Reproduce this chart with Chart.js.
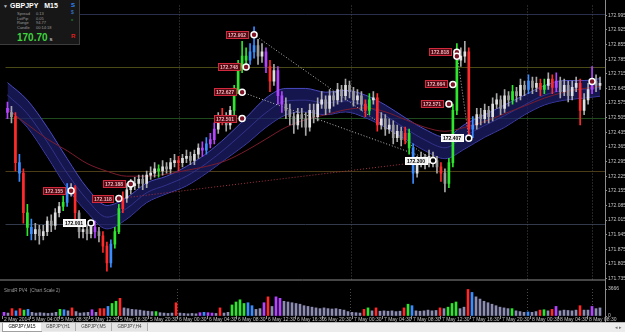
<!DOCTYPE html>
<html>
<head>
<meta charset="utf-8">
<script src="https://cdn.jsdelivr.net/npm/chart.js@4.4.1/dist/chart.umd.min.js"></script>
<style>
html, body { margin:0; padding:0; background:#000; width:625px; height:332px; overflow:hidden; font-family:"Liberation Sans", Arial, sans-serif; }
#main { position:absolute; left:0; top:0; }
#vol { position:absolute; left:0; top:285px; }
#info { position:absolute; left:0; top:0; width:79px; height:44px; background:#171717; border-right:1px solid #3c3c3c; border-bottom:1px solid #3c3c3c; }
#info div { position:absolute; white-space:nowrap; }
.title { left:10px; top:2px; color:#fff; font-size:7px; font-weight:bold; }
.arrow { left:3px; top:3px; color:#bbb; font-size:5px; }
.row { left:17px; color:#9a9a9a; font-size:4px; }
.row span { position:absolute; left:19px; }
.price { left:17px; top:32px; color:#3ed43e; font-size:10px; font-weight:bold; }
.price span { color:#ddd; font-size:6px; font-weight:normal; margin-left:2px; }
.side { left:71px; font-size:6px; font-weight:bold; }
#pvtitle { position:absolute; left:4px; top:288px; color:#9a9a9a; font-size:4.5px; white-space:nowrap; }
#times { position:absolute; left:0; top:316px; width:625px; height:6px; }
#times span { position:absolute; top:0; font-size:5px; line-height:6px; color:#c4c4c4; white-space:nowrap; }
#tabs { position:absolute; left:0; top:322px; width:625px; height:10px; background:#ececec; border-top:1px solid #b8b8b8; }
.tab { position:absolute; top:0; height:8px; line-height:8px; font-size:4.5px; text-align:center; color:#404040; background:#e4e4e4; border-right:1px solid #b0b0b0; }
.tab.active { background:#fff; color:#000; border:1px solid #a0a0a0; border-top:none; }
#arrows { position:absolute; right:3px; top:0; font-size:5px; color:#707070; line-height:9px; }
</style>
</head>
<body>
<canvas id="main" width="625" height="285"></canvas>
<canvas id="vol" width="625" height="37"></canvas>

<div id="info">
  <div class="arrow">▼</div>
  <div class="title">GBPJPY&nbsp;&nbsp;&nbsp;M15</div>
  <div class="row" style="top:11px">Spread<span>0.13</span></div>
  <div class="row" style="top:15.5px">LotPip<span>0.05</span></div>
  <div class="row" style="top:20px">Range<span>94.77</span></div>
  <div class="row" style="top:24.5px">Candle<span>00:14:18</span></div>
  <div class="price">170.70<span>s</span></div>
  <div class="side" style="top:2px;color:#2f8cff">S</div>
  <div class="side" style="top:9px;color:#2f6fd0;font-size:5px">$</div>
  <div class="side" style="top:17px;color:#1f5a2a;font-size:4px">■</div>
  <div class="side" style="top:33px;color:#e02020">R</div>
</div>
<div id="pvtitle">SimdR PV4&nbsp; (Chart Scale 2)</div>
<div id="times"></div>
<div id="tabs">
  <div class="tab active" style="left:2px;width:38px">GBPJPY,M15</div>
  <div class="tab" style="left:41px;width:34px">GBPJPY,H1</div>
  <div class="tab" style="left:76px;width:35px">GBPJPY,M5</div>
  <div class="tab" style="left:112px;width:35px">GBPJPY,H4</div>
  <div id="arrows">◂ ▸</div>
</div>

<script>
// ---- candles (bar index 0..149) ----
const opens = [
  172.55,172.53,172.51,172.29,172.24,172.05,171.98,171.95,171.97,171.94,
  171.96,172.01,171.99,172.05,172.08,172.10,172.15,172.17,172.05,171.96,
  171.97,171.95,171.98,171.96,171.94,171.89,171.81,171.90,171.96,172.07,
  172.12,172.16,172.18,172.19,172.21,172.19,172.23,172.24,172.26,172.25,
  172.27,172.26,172.29,172.30,172.29,172.31,172.32,172.30,172.33,172.36,
  172.35,172.38,172.40,172.45,172.50,172.51,172.47,172.54,172.64,172.75,
  172.80,172.78,172.82,172.85,172.80,172.82,172.75,172.68,172.73,172.61,
  172.57,172.54,172.51,172.47,172.52,172.50,172.46,172.54,172.51,172.57,
  172.59,172.55,172.61,172.59,172.64,172.61,172.66,172.63,172.59,172.61,
  172.57,172.54,172.59,172.60,172.47,172.50,172.45,172.47,172.41,172.44,
  172.40,172.43,172.36,172.24,172.29,172.31,172.29,172.32,172.30,172.27,
  172.24,172.19,172.29,172.54,172.78,172.80,172.82,172.45,172.47,172.52,
  172.50,172.54,172.51,172.57,172.59,172.55,172.61,172.59,172.63,172.61,
  172.66,172.64,172.68,172.65,172.67,172.64,172.66,172.69,172.65,172.68,
  172.63,172.66,172.61,172.65,172.67,172.54,172.59,172.64,172.68,172.66
];
const highs = [
  172.58,172.56,172.53,172.33,172.26,172.09,172.02,172.00,171.99,171.99,
  172.03,172.04,172.07,172.10,172.13,172.19,172.19,172.18,172.06,172.00,
  171.99,172.00,172.01,171.98,171.96,171.91,171.92,171.98,172.09,172.15,
  172.19,172.21,172.22,172.23,172.23,172.25,172.27,172.29,172.28,172.30,
  172.29,172.31,172.33,172.32,172.33,172.35,172.34,172.35,172.38,172.39,
  172.41,172.43,172.48,172.53,172.55,172.53,172.56,172.66,172.78,172.87,
  172.84,172.86,172.94,172.88,172.86,172.84,172.78,172.76,172.75,172.63,
  172.60,172.57,172.53,172.55,172.55,172.53,172.57,172.57,172.60,172.63,
  172.61,172.64,172.63,172.67,172.66,172.69,172.68,172.65,172.64,172.63,
  172.59,172.62,172.63,172.62,172.53,172.52,172.50,172.49,172.47,172.46,
  172.46,172.45,172.38,172.32,172.34,172.33,172.35,172.34,172.32,172.29,
  172.26,172.31,172.57,172.86,172.84,172.87,172.84,172.51,172.55,172.55,
  172.57,172.56,172.60,172.62,172.61,172.64,172.63,172.66,172.65,172.69,
  172.68,172.71,172.70,172.70,172.69,172.69,172.72,172.71,172.72,172.70,
  172.69,172.68,172.68,172.70,172.69,172.62,172.67,172.75,172.71,172.70
];
const lows = [
  172.50,172.48,172.25,172.20,172.00,171.94,171.92,171.92,171.90,171.92,
  171.94,171.96,171.97,172.03,172.06,172.08,172.13,172.02,171.93,171.93,
  171.92,171.93,171.93,171.91,171.86,171.77,171.79,171.88,171.95,172.05,
  172.10,172.14,172.16,172.17,172.16,172.17,172.21,172.22,172.22,172.23,
  172.24,172.24,172.27,172.25,172.27,172.29,172.28,172.28,172.31,172.32,
  172.33,172.36,172.38,172.43,172.47,172.44,172.45,172.52,172.62,172.72,
  172.74,172.76,172.79,172.76,172.77,172.72,172.63,172.66,172.57,172.53,
  172.50,172.47,172.43,172.45,172.46,172.42,172.44,172.48,172.49,172.55,
  172.52,172.53,172.56,172.57,172.58,172.59,172.60,172.56,172.57,172.54,
  172.51,172.52,172.57,172.44,172.45,172.42,172.43,172.38,172.39,172.37,
  172.38,172.33,172.19,172.22,172.27,172.26,172.27,172.27,172.24,172.20,
  172.15,172.17,172.27,172.52,172.75,172.77,172.42,172.41,172.45,172.47,
  172.48,172.48,172.49,172.55,172.52,172.53,172.56,172.57,172.58,172.59,
  172.61,172.62,172.62,172.63,172.61,172.62,172.64,172.62,172.63,172.60,
  172.61,172.58,172.59,172.63,172.47,172.52,172.57,172.62,172.63,172.64
];
const closes = [
  172.53,172.51,172.29,172.24,172.05,171.98,171.95,171.97,171.94,171.96,
  172.01,171.99,172.05,172.08,172.10,172.15,172.17,172.05,171.96,171.97,
  171.95,171.98,171.96,171.94,171.89,171.81,171.90,171.96,172.07,172.12,
  172.16,172.18,172.19,172.21,172.19,172.23,172.24,172.26,172.25,172.27,
  172.26,172.29,172.30,172.29,172.31,172.32,172.30,172.33,172.36,172.35,
  172.38,172.40,172.45,172.50,172.51,172.47,172.54,172.64,172.75,172.80,
  172.78,172.82,172.85,172.80,172.82,172.75,172.68,172.73,172.61,172.57,
  172.54,172.51,172.47,172.52,172.50,172.46,172.54,172.51,172.57,172.59,
  172.55,172.61,172.59,172.64,172.61,172.66,172.63,172.59,172.61,172.57,
  172.54,172.59,172.60,172.47,172.50,172.45,172.47,172.41,172.44,172.40,
  172.43,172.36,172.24,172.29,172.31,172.29,172.32,172.30,172.27,172.24,
  172.19,172.29,172.54,172.78,172.80,172.82,172.45,172.47,172.52,172.50,
  172.54,172.51,172.57,172.59,172.55,172.61,172.59,172.63,172.61,172.66,
  172.64,172.68,172.65,172.67,172.64,172.66,172.69,172.65,172.68,172.63,
  172.66,172.61,172.65,172.67,172.54,172.59,172.64,172.68,172.66,172.67
];
// PV4 bar class: n normal, r climax red, g climax green, b rising blue, m magenta
const pvaClass = (
  'mnrbrgbnnn' + 'nnnngbnrnn' + 'nnmnrrbggr' + 'nnnnnnnngn' + 'nnnrnnnnnm' +
  'bmmnrnnggg' + 'gbbnnmrnmm' + 'nnnnnnnnnn' + 'nnnnnnnnnn' + 'rgnrnnnnnn' +
  'rgbnnnnnnr' + 'ngggnnrbnn' + 'nnnnnnngnn' + 'nbnnrgnrmn' + 'nnnnrnnmnn'
).split('');
const volumes = [
  500,400,1000,700,1000,800,900,500,400,450,
  400,350,400,500,900,850,700,1100,600,400,
  450,500,850,500,1000,1000,1300,1700,2000,2400,
  1100,1000,900,850,800,700,650,600,600,450,
  400,350,400,1800,400,350,300,350,300,450,
  500,450,400,350,1100,400,500,1500,1900,2200,
  1700,1800,1400,900,1000,1800,2600,1300,2600,2400,
  2000,1900,1800,1700,1600,1400,1300,1200,1100,1000,
  1100,1000,950,1000,900,800,600,500,450,400,
  900,1100,700,1100,650,700,650,700,600,650,
  1100,1600,1400,700,650,700,800,700,750,1100,
  1000,1200,1700,1900,1000,1200,3600,3200,2600,2300,
  2000,1800,1600,1400,1200,1100,1000,1000,700,600,
  500,550,500,600,800,850,700,900,1300,700,
  800,750,700,800,1400,800,800,1300,1000,1100
];

// ---- moving-average ribbon & slow MA (sampled every 5 bars) ----
const ribbonIdx = [0,5,10,15,20,25,30,35,40,45,50,55,60,65,70,75,80,85,90,95,100,105,110,115,120,125,130,135,140,145,149];
const ribbonTop = [172.673,172.589,172.459,172.309,172.169,172.085,172.123,172.193,172.225,172.272,172.333,172.412,172.505,172.599,172.645,172.645,172.627,172.636,172.613,172.566,172.505,172.449,172.412,172.473,172.519,172.566,172.613,172.659,172.683,172.683,172.692];
const ribbonMid = [172.613,172.524,172.389,172.239,172.113,172.029,172.071,172.146,172.183,172.225,172.286,172.361,172.445,172.529,172.585,172.589,172.575,172.585,172.561,172.515,172.454,172.398,172.361,172.417,172.468,172.515,172.566,172.613,172.636,172.641,172.650];
const ribbonBot = [172.552,172.459,172.319,172.169,172.053,171.973,172.020,172.099,172.141,172.179,172.239,172.309,172.379,172.459,172.519,172.533,172.519,172.533,172.505,172.459,172.403,172.347,172.309,172.356,172.412,172.459,172.519,172.566,172.589,172.599,172.608];
const slowMA = [172.543,172.473,172.403,172.347,172.286,172.249,172.225,172.225,172.235,172.253,172.272,172.300,172.347,172.403,172.459,172.496,172.519,172.543,172.552,172.533,172.496,172.459,172.440,172.459,172.487,172.524,172.561,172.599,172.627,172.645,172.655];

// ---- price markers ----
const annIdx   = [62, 60, 59, 59, 113, 113, 112, 111, 16, 28, 31, 21, 116, 107, 147];
const annPrice = [172.902,172.748,172.627,172.501,172.818,172.799,172.664,172.571,172.155,172.118,172.188,172.001,172.407,172.300,172.678];
const annKind  = ['r','r','r','r','r','r','r','r','r','r','r','w','w','w','r'];
const annShowLabel = [1,1,1,1,1,0,1,1,1,1,1,1,1,1,0];
const trendPairs = [[0,13],[2,13],[9,13],[12,4]];

// ---- levels, separators, axis ticks ----
const levelPrices = [173.000, 172.748, 172.505, 172.249, 171.997];
const separators = [43.25, 86.5, 130.75, 147];
const priceTicks = [171.735,171.805,171.875,171.945,172.015,172.085,172.155,172.225,172.295,172.365,172.435,172.505,172.575,172.645,172.715,172.785,172.855,172.925,172.995];
const timeTickPos = [-0.5,6.5,13.75,21.25,28.5,36,43.25,50.75,58,65.5,72.75,79.5,87,94.5,101.75,109,116.5,124,131.5,138.5,145.75];
const timeLabels = ['2 May 2014','5 May 04:00','5 May 08:30','5 May 12:30','5 May 16:30','5 May 20:30','6 May 00:30','6 May 04:30','6 May 08:30','6 May 12:30','6 May 16:30','6 May 20:30','7 May 00:30','7 May 04:30','7 May 08:30','7 May 12:30','7 May 16:30','7 May 20:30','8 May 00:30','8 May 04:30','8 May 08:30'];
const volMax = 3666;

const X_MIN = -0.5, X_MAX = 150.25;
const PVA = { r:'#ff2a2a', g:'#2ee62e', b:'#3a8cff', m:'#b444ff' };
const levelColors = ['#28304e', '#4a4a16', '#1e4a1e', '#4d3c18', '#323a4c'];
const FONT = '"Liberation Sans", Arial, sans-serif';

const bodyColors = closes.map((c, i) => PVA[pvaClass[i]] || (c >= opens[i] ? '#dedede' : '#9c9c9c'));
const wickColors = closes.map((c, i) => PVA[pvaClass[i]] || '#a8a8a8');
const volColors = pvaClass.map(k => PVA[k] || '#8c8cb4');

const sparse = arr => arr.map((v, k) => ({ x: ribbonIdx[k], y: v }));

// one plugin instance per pane, flags kept in the closure
function makeFrame(id, withLevels, withBottom, withTicks) {
  return {
    id,
    beforeDatasetsDraw(chart) {
      const { ctx, chartArea: a, scales } = chart;
      ctx.save();
      ctx.lineWidth = 1;
      if (withLevels) {
        levelPrices.forEach((p, k) => {
          const y = Math.round(scales.y.getPixelForValue(p)) + 0.5;
          ctx.strokeStyle = levelColors[k];
          ctx.beginPath(); ctx.moveTo(a.left, y); ctx.lineTo(a.right, y); ctx.stroke();
        });
      }
      ctx.strokeStyle = '#4a4a4a';
      ctx.setLineDash([1, 2]);
      separators.forEach(s => {
        const x = Math.round(scales.x.getPixelForValue(s)) + 0.5;
        ctx.beginPath(); ctx.moveTo(x, a.top); ctx.lineTo(x, a.bottom); ctx.stroke();
      });
      ctx.restore();
    },
    afterDraw(chart) {
      const { ctx, chartArea: a, scales } = chart;
      ctx.save();
      ctx.strokeStyle = '#8c8c8c';
      ctx.lineWidth = 1;
      ctx.beginPath();
      ctx.moveTo(a.right + 0.5, 0); ctx.lineTo(a.right + 0.5, chart.height);
      if (withBottom) { ctx.moveTo(0, a.bottom + 0.5); ctx.lineTo(a.right, a.bottom + 0.5); }
      if (withTicks) {
        timeTickPos.forEach(p => {
          const x = Math.round(scales.x.getPixelForValue(p)) + 0.5;
          ctx.moveTo(x, a.bottom); ctx.lineTo(x, a.bottom + 3);
        });
      }
      ctx.stroke();
      ctx.restore();
    }
  };
}

const labelPlugin = {
  id: 'annLabels',
  afterDatasetsDraw(chart) {
    const dsIndex = chart.data.datasets.findIndex(d => d.label === 'ann');
    const meta = chart.getDatasetMeta(dsIndex);
    const ctx = chart.ctx;
    ctx.save();
    ctx.font = 'bold 5px ' + FONT;
    ctx.textBaseline = 'middle';
    meta.data.forEach((pt, k) => {
      if (!annShowLabel[k]) return;
      const txt = annPrice[k].toFixed(3);
      const w = Math.ceil(ctx.measureText(txt).width) + 4;
      const x1 = Math.round(pt.x) - 5, x0 = x1 - w, y0 = Math.round(pt.y) - 4;
      const white = annKind[k] === 'w';
      ctx.fillStyle = white ? '#f2f2f2' : '#560a14';
      ctx.fillRect(x0, y0, w, 8);
      ctx.strokeStyle = white ? '#ffffff' : '#d22a3c';
      ctx.lineWidth = 1;
      ctx.strokeRect(x0 + 0.5, y0 + 0.5, w - 1, 7);
      ctx.fillStyle = white ? '#000000' : '#f0b4bc';
      ctx.fillText(txt, x0 + 2, y0 + 4.5);
    });
    ctx.restore();
  }
};

const ribbonLine = (data, color, extra) => Object.assign({
  type: 'line', data: sparse(data), borderColor: color, borderWidth: 1,
  pointRadius: 0, cubicInterpolationMode: 'monotone', fill: false, order: 6
}, extra || {});

const mainDatasets = [
  ribbonLine(ribbonTop, '#4a4ac0', { fill: 2, backgroundColor: 'rgba(30,30,110,0.72)' }),
  ribbonLine(ribbonMid, '#6262d6'),
  ribbonLine(ribbonBot, '#4a4ac0'),
  { type: 'line', data: sparse(slowMA), borderColor: '#7a1c2c', borderWidth: 1, pointRadius: 0, cubicInterpolationMode: 'monotone', order: 5 }
];
trendPairs.forEach(([a, b]) => {
  mainDatasets.push({
    type: 'line',
    data: [{ x: annIdx[a], y: annPrice[a] }, { x: annIdx[b], y: annPrice[b] }],
    borderColor: a === 9 ? '#a83040' : '#b8b8b8',
    borderWidth: 1, borderDash: [1, 2], pointRadius: 0, order: 4
  });
});
mainDatasets.push(
  { type: 'bar', label: 'wick', data: lows.map((l, i) => ({ x: i, y: [l, highs[i]] })),
    backgroundColor: wickColors, barThickness: 1, grouped: false, order: 3 },
  { type: 'bar', label: 'body', data: opens.map((o, i) => ({ x: i, y: [o, closes[i]] })),
    backgroundColor: bodyColors, barThickness: 2, grouped: false, minBarLength: 1, order: 2 },
  { type: 'scatter', label: 'ann', data: annIdx.map((x, k) => ({ x, y: annPrice[k] })),
    backgroundColor: annKind.map(k => k === 'w' ? '#000000' : '#7c1426'),
    borderColor: '#ffffff', pointRadius: 3, pointBorderWidth: 1.5, order: 0 }
);

new Chart(document.getElementById('main'), {
  type: 'bar',
  data: { datasets: mainDatasets },
  options: {
    responsive: false, animation: false, devicePixelRatio: 1,
    layout: { padding: { left: 2, top: 3, right: 0, bottom: 1 } },
    plugins: { legend: { display: false }, tooltip: { enabled: false } },
    scales: {
      x: { type: 'linear', min: X_MIN, max: X_MAX, display: false, offset: false },
      y: {
        position: 'right', min: 171.7306, max: 173.042,
        afterBuildTicks: s => { s.ticks = priceTicks.map(v => ({ value: v })); },
        afterFit: s => { s.width = 20; },
        ticks: { color: '#c4c4c4', autoSkip: false, padding: 1, font: { family: FONT, size: 5 }, callback: v => v.toFixed(3) },
        grid: { drawOnChartArea: false, drawTicks: true, tickLength: 2, color: '#8c8c8c' },
        border: { color: '#8c8c8c' }
      }
    }
  },
  plugins: [makeFrame('mainFrame', true, true, false), labelPlugin]
});

const volChart = new Chart(document.getElementById('vol'), {
  type: 'bar',
  data: { datasets: [{
    data: volumes.map((v, i) => ({ x: i, y: v })),
    backgroundColor: volColors, barThickness: 2, grouped: false
  }] },
  options: {
    responsive: false, animation: false, devicePixelRatio: 1,
    layout: { padding: { left: 2, top: 4, right: 0, bottom: 6 } },
    plugins: { legend: { display: false }, tooltip: { enabled: false } },
    scales: {
      x: { type: 'linear', min: X_MIN, max: X_MAX, offset: false, display: false },
      y: {
        position: 'right', min: 0, max: volMax,
        afterBuildTicks: s => { s.ticks = [{ value: 0 }, { value: volMax }]; },
        afterFit: s => { s.width = 20; },
        ticks: { color: '#c4c4c4', autoSkip: false, padding: 1, font: { family: FONT, size: 5 }, callback: v => String(v) },
        grid: { drawOnChartArea: false, drawTicks: true, tickLength: 2, color: '#8c8c8c' },
        border: { color: '#8c8c8c' }
      }
    }
  },
  plugins: [makeFrame('volFrame', false, false, true)]
});

// time labels under the volume pane, placed with the pane's x scale
const timesBox = document.getElementById('times');
timeTickPos.forEach((p, k) => {
  const s = document.createElement('span');
  s.textContent = timeLabels[k];
  s.style.left = (Math.round(volChart.scales.x.getPixelForValue(p)) + 2) + 'px';
  timesBox.appendChild(s);
});
</script>
</body>
</html>
